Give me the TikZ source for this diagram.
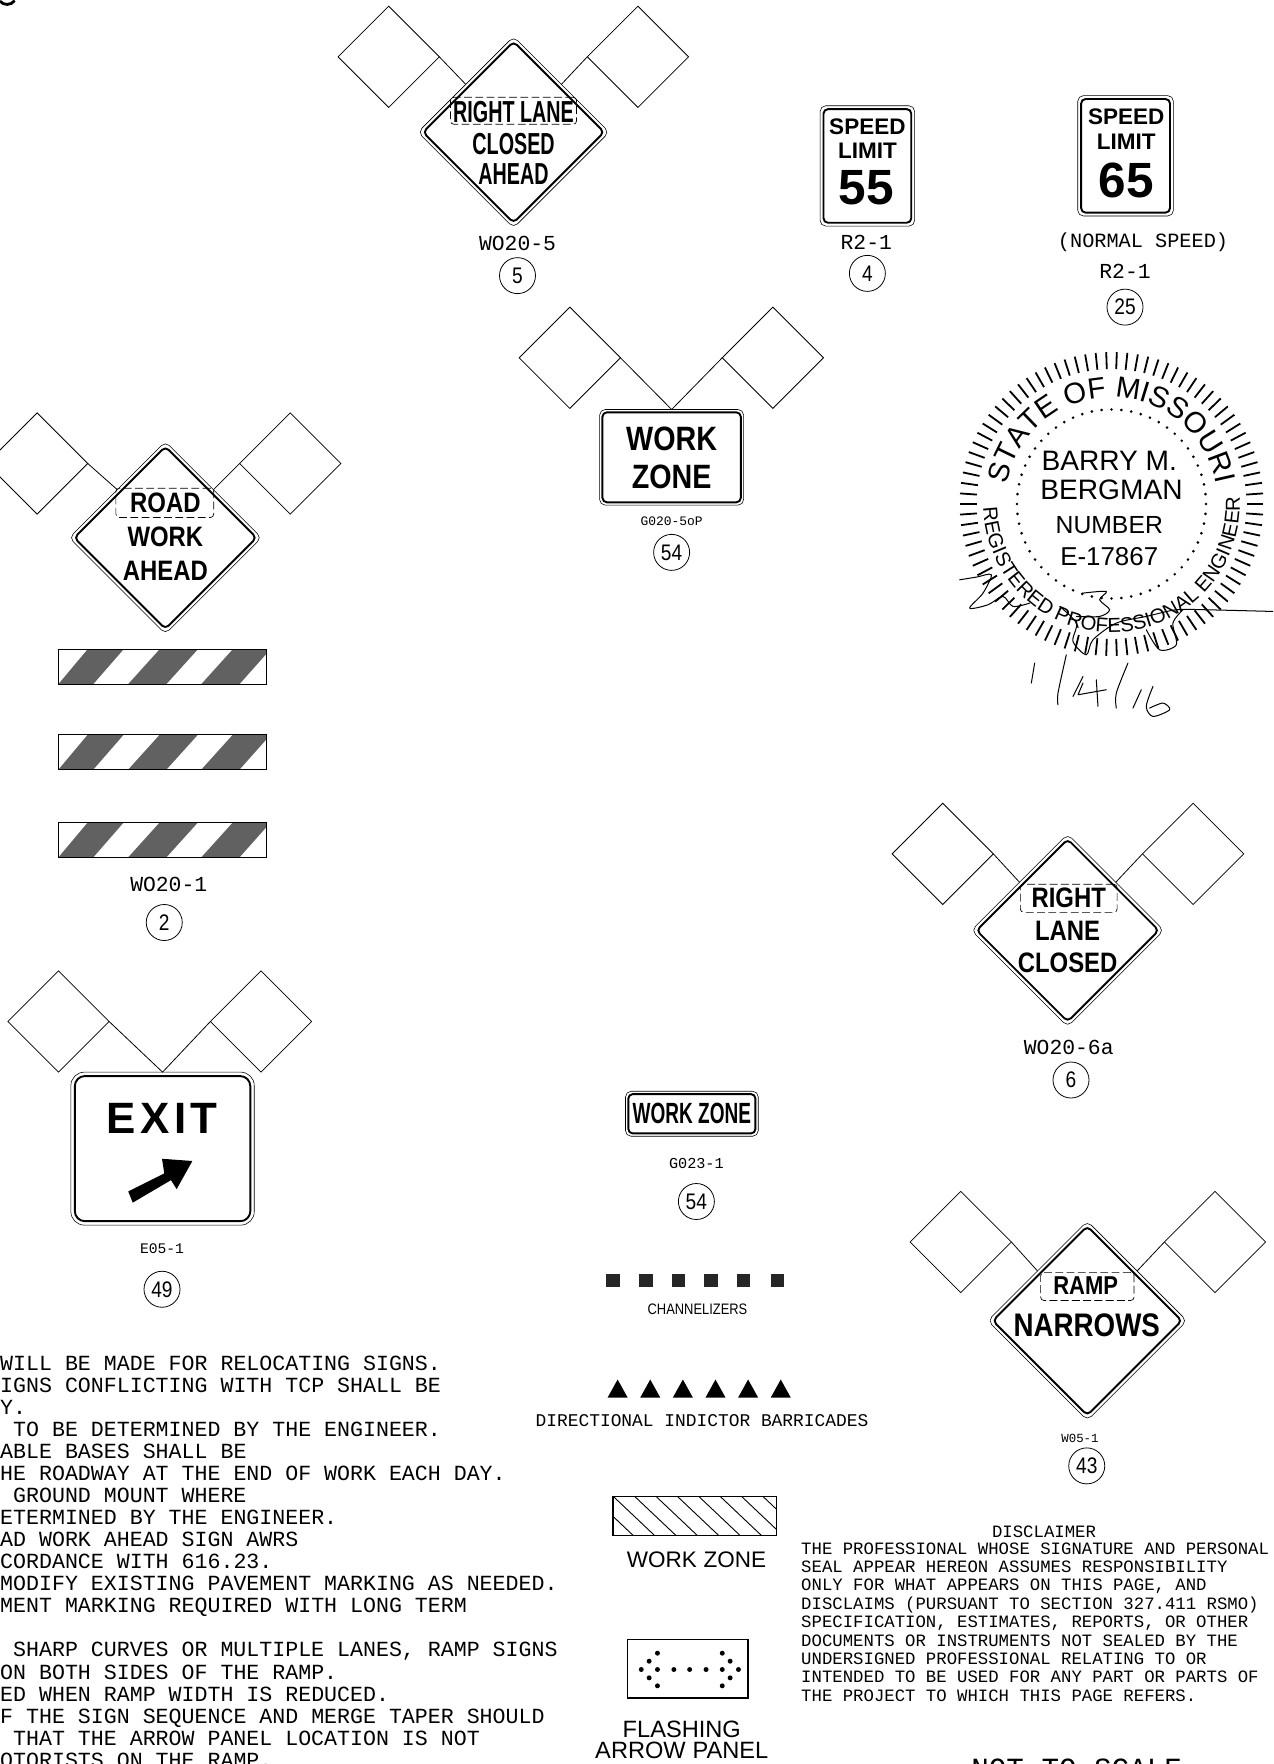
\documentclass[tikz,border=0pt]{standalone}
\usepackage{fontspec}
\setmainfont{Liberation Sans}
\setmonofont{Liberation Mono}
\newfontfamily\signfont[FakeStretch=0.65]{Liberation Sans}
\newfontfamily\signwide[FakeStretch=0.85]{Liberation Sans}
\usetikzlibrary{shapes.geometric,decorations.text}
\newcommand{\fsz}[1]{\fontsize{#1}{#1}\selectfont}
\tikzset{
  flagd/.style={draw, diamond, line width=0.7pt, inner sep=0pt, outer sep=0pt, minimum width=90pt, minimum height=90pt},
  signo/.style={draw, diamond, fill=white, rounded corners=5pt, line width=0.5pt, inner sep=0pt, outer sep=0pt, minimum width=#1, minimum height=#1},
  signi/.style={draw, diamond, rounded corners=4pt, line width=1.7pt, inner sep=0pt, outer sep=0pt, minimum width=#1, minimum height=#1},
  boxo/.style={draw, rectangle, fill=white, rounded corners=5pt, line width=0.5pt, inner sep=0pt, outer sep=0pt},
  boxi/.style={draw, rectangle, rounded corners=4pt, line width=1.7pt, inner sep=0pt, outer sep=0pt},
  dashbox/.style={draw, rectangle, dash pattern=on 7pt off 3pt, rounded corners=3pt, line width=0.6pt, inner sep=0pt, outer sep=0pt},
  legend/.style={font=\signfont\bfseries\fsz{27}, inner sep=0pt},
  legwide/.style={font=\signwide\bfseries\fsz{25}, inner sep=0pt},
  lbl/.style={font=\ttfamily\fsz{19}, inner sep=0pt},
  numc/.style={draw, circle, line width=0.7pt, minimum size=32pt, inner sep=0pt, font=\signwide\fsz{20}},
  speed/.style={font=\bfseries\fsz{20}, inner sep=0pt},
  limit/.style={font=\bfseries\fsz{44}, inner sep=0pt},
  sealtxt/.style={inner sep=0pt},
  hand/.style={line width=0.9pt, line cap=round, line join=round}
}
\begin{document}
\begin{tikzpicture}[x=1pt, y=-1pt]
\useasboundingbox (0,0) rectangle (1132,1568);
\draw[line width=2.5pt] (0,1) .. controls (3,5) and (10,5) .. (13,0.5);

\node[flagd] (RLCa) at (345.5,50.5) {};
\node[flagd] (RLCb) at (567,50.5) {};
\node[signo=170pt] (RLC) at (456.5,117.5) {};
\node[signi=161pt] (RLCi) at (RLC) {};
\draw[line width=0.7pt] (RLCa.east) -- (RLC.north west);
\draw[line width=0.7pt] (RLCb.west) -- (RLC.north east);
\node[dashbox, minimum width=112pt, minimum height=24pt] (RLCd) at (456.5,98.5) {};
\node[legend] (RLCt) at (456.5,100) {RIGHT LANE};
\node[legend] (RLCu) at (456.5,128) {CLOSED};
\node[legend] (RLCv) at (456.5,155) {AHEAD};
\node[lbl] (RLCl) at (460,216) {WO20-5};
\node[numc] (RLCn) at (460,245) {5};

\node[boxo, minimum width=84pt, minimum height=107pt] (SL55) at (771,147.5) {};
\node[boxi, minimum width=78pt, minimum height=101pt] (SL55i) at (SL55) {};
\node[speed] (SL55a) at (771,113) {SPEED};
\node[speed] (SL55b) at (771,134) {LIMIT};
\node[limit] (SL55c) at (770,167) {55};
\node[lbl] (SL55l) at (770,215) {R2-1};
\node[numc] (SL55n) at (771,243) {4};

\node[boxo, minimum width=85pt, minimum height=107pt] (SL65) at (1000.5,138.5) {};
\node[boxi, minimum width=79pt, minimum height=101pt] (SL65i) at (SL65) {};
\node[speed] (SL65a) at (1001,104) {SPEED};
\node[speed] (SL65b) at (1001,126) {LIMIT};
\node[limit] (SL65c) at (1001,160) {65};
\node[lbl, font=\ttfamily\fsz{18}] (SL65m) at (1016,215) {(NORMAL SPEED)};
\node[lbl] (SL65l) at (1000,241) {R2-1};
\node[numc] (SL65n) at (1000,273) {25};

\node[flagd] (WZa) at (506.5,318) {};
\node[flagd] (WZb) at (687,318) {};
\node[boxo, minimum width=128pt, minimum height=85pt] (WZ) at (597,406.5) {};
\node[boxi, minimum width=123pt, minimum height=80pt] (WZi) at (WZ) {};
\draw[line width=0.7pt] (WZa.east) -- (WZ.north) -- (WZb.west);
\node[legwide, font=\signwide\bfseries\fsz{30}] (WZt) at (597,390) {WORK};
\node[legwide, font=\signwide\bfseries\fsz{30}] (WZu) at (597,424) {ZONE};
\node[lbl, font=\ttfamily\fsz{11.5}] (WZl) at (597,463) {G020-5oP};
\node[numc] (WZn) at (597,491) {54};

\node[flagd] (RWAa) at (33,412) {};
\node[flagd] (RWAb) at (258,412) {};
\node[signo=171pt] (RWA) at (147,478) {};
\node[signi=162pt] (RWAi) at (RWA) {};
\draw[line width=0.7pt] (RWAa.east) -- (RWA.north west);
\draw[line width=0.7pt] (RWAb.west) -- (RWA.north east);
\node[dashbox, minimum width=87pt, minimum height=26pt] (RWAd) at (146.5,447) {};
\node[legwide] (RWAt) at (147,447) {ROAD};
\node[legwide] (RWAu) at (147,477) {WORK};
\node[legwide] (RWAv) at (147,507) {AHEAD};

\foreach \y/\n in {577/a,653/b,731/c}{
  \fill[black!62] (52,{\y+31}) -- (83,{\y+31}) -- (110,\y) -- (78,\y) -- cycle;
  \fill[black!62] (114,{\y+31}) -- (148,{\y+31}) -- (176,\y) -- (142,\y) -- cycle;
  \fill[black!62] (179,{\y+31}) -- (213,{\y+31}) -- (237,{\y+4}) -- (237,\y) -- (207,\y) -- cycle;
  \node[draw, line width=0.9pt, inner sep=0pt, outer sep=0pt, minimum width=185pt, minimum height=31pt] (Bar\n) at (144.5,{\y+15.5}) {};
}
\node[lbl] (Barl) at (150,786) {WO20-1};
\node[numc] (Barn) at (146,820) {2};

\node[flagd] (EXa) at (52,908) {};
\node[flagd] (EXb) at (232,908) {};
\node[boxo, rounded corners=12pt, minimum width=163pt, minimum height=136pt] (EX) at (144.5,1021) {};
\node[boxi, rounded corners=9pt, minimum width=156pt, minimum height=129pt] (EXi) at (EX) {};
\draw[line width=0.7pt] (EXa.east) -- (EX.north) -- (EXb.west);
\node[font=\bfseries\fsz{39}, inner sep=0pt] (EXt) at (144,994) {E\hspace{4pt}X\hspace{4pt}I\hspace{4pt}T};
\fill (114,1059) -- (146,1043) -- (144,1030) -- (171,1032) -- (157,1057) -- (152,1049) -- (118,1069) -- cycle;
\node[lbl, font=\ttfamily\fsz{13}] (EXl) at (144,1110) {E05-1};
\node[numc] (EXn) at (144,1146) {49};

\node[flagd] (RLa) at (838,759) {};
\node[flagd] (RLb) at (1060.5,759) {};
\node[signo=171pt] (RL) at (949,827) {};
\node[signi=162pt] (RLi) at (RL) {};
\draw[line width=0.7pt] (RLa.east) -- (RL.north west);
\draw[line width=0.7pt] (RLb.west) -- (RL.north east);
\node[dashbox, minimum width=86pt, minimum height=25pt] (RLd) at (950,798.5) {};
\node[legwide] (RLt) at (950,798) {RIGHT};
\node[legwide] (RLu) at (949,827) {LANE};
\node[legwide] (RLv) at (949,856) {CLOSED};
\node[lbl] (RLl) at (950,931) {WO20-6a};
\node[numc] (RLn) at (952,960) {6};

\node[flagd] (RNa) at (854,1104) {};
\node[flagd] (RNb) at (1080,1104) {};
\node[signo=177pt] (RN) at (966.5,1174) {};
\node[signi=168pt] (RNi) at (RN) {};
\draw[line width=0.7pt] (RNa.east) -- (RN.north west);
\draw[line width=0.7pt] (RNb.west) -- (RN.north east);
\node[dashbox, minimum width=83pt, minimum height=25pt] (RNd) at (966.5,1143.5) {};
\node[legwide, font=\signwide\bfseries\fsz{23}] (RNt) at (965,1143) {RAMP};
\node[legwide, font=\signwide\bfseries\fsz{29}] (RNu) at (966,1178) {NARROWS};
\node[lbl, font=\ttfamily\fsz{11}] (RNl) at (960,1279) {W05-1};
\node[numc] (RNn) at (966,1303) {43};

\node[boxo, minimum width=118pt, minimum height=40pt] (GWZ) at (615,990) {};
\node[boxi, minimum width=113pt, minimum height=35pt] (GWZi) at (GWZ) {};
\node[legend, font=\signfont\bfseries\fsz{26}] (GWZt) at (615,990) {WORK ZONE};
\node[lbl, font=\ttfamily\fsz{13.5}] (GWZl) at (619,1034) {G023-1};
\node[numc] (GWZn) at (619,1068) {54};

\foreach \x in {545,574,603,632,661,691}
  \node[fill=black!85, inner sep=0pt, minimum size=12pt] (Ch\x) at (\x,1138) {};
\node[font=\signwide\fsz{13.5}, inner sep=0pt] (Chl) at (620,1164) {CHANNELIZERS};

\foreach \x in {549,578,607,636,665,694}
  \node[isosceles triangle, isosceles triangle apex angle=58, shape border rotate=90, fill=black, inner sep=0pt, minimum height=16pt, minimum width=17pt] (Tr\x) at (\x,1237) {};
\node[lbl, font=\ttfamily\fsz{15.9}] (Trl) at (624,1263) {DIRECTIONAL INDICTOR BARRICADES};

\begin{scope}
  \clip (545,1330) rectangle (690,1365);
  \foreach \x in {507,526,545,564,583,602,621,640,659,678}
    \draw[line width=0.8pt] (\x,1330) -- (\x+37,1365);
\end{scope}
\node[draw, line width=1.3pt, inner sep=0pt, outer sep=0pt, minimum width=145pt, minimum height=35pt] (HZ) at (617.5,1347.5) {};
\node[font=\fsz{20}, inner sep=0pt] (HZl) at (619,1386) {WORK\hspace{6pt}ZONE};

\node[draw, line width=1.3pt, inner sep=0pt, outer sep=0pt, minimum width=107pt, minimum height=52pt] (AP) at (611.5,1483.5) {};
\foreach \x/\y in {570/0,577/-7.4,577/7.4,584.4/0,584.4/-14.5,584.4/14.5,599/0,613/0,627.6/0,642/0,642/-14.5,642/14.5,649/-7.4,649/7.4,656.4/0}
  \fill (\x,{1484+\y}) circle (2.2);
\node[font=\fsz{21}, inner sep=0pt] (APa) at (606,1537) {FLASHING};
\node[font=\fsz{21}, inner sep=0pt] (APb) at (606,1556) {ARROW\hspace{6pt}PANEL};

\node[font=\ttfamily\fsz{15.4}, inner sep=0pt] (Dis) at (928,1362) {DISCLAIMER};
\node[anchor=north west, align=left, font=\ttfamily\fontsize{15.4}{16.35}\selectfont, inner sep=0pt] (Dist) at (712,1371) {THE PROFESSIONAL WHOSE SIGNATURE AND PERSONAL\\
SEAL APPEAR HEREON ASSUMES RESPONSIBILITY\\
ONLY FOR WHAT APPEARS ON THIS PAGE, AND\\
DISCLAIMS (PURSUANT TO SECTION 327.411 RSMO)\\
SPECIFICATION, ESTIMATES, REPORTS, OR OTHER\\
DOCUMENTS OR INSTRUMENTS NOT SEALED BY THE\\
UNDERSIGNED PROFESSIONAL RELATING TO OR\\
INTENDED TO BE USED FOR ANY PART OR PARTS OF\\
THE PROJECT TO WHICH THIS PAGE REFERS.};

\node[anchor=north west, align=left, font=\ttfamily\fontsize{19.2}{19.6}\selectfont, inner sep=0pt] (Notes) at (0,1205) {WILL BE MADE FOR RELOCATING SIGNS.\\
IGNS CONFLICTING WITH TCP SHALL BE\\
Y.\\
\hspace*{11.5pt}TO BE DETERMINED BY THE ENGINEER.\\
ABLE BASES SHALL BE\\
HE ROADWAY AT THE END OF WORK EACH DAY.\\
\hspace*{11.5pt}GROUND MOUNT WHERE\\
ETERMINED BY THE ENGINEER.\\
AD WORK AHEAD SIGN AWRS\\
CORDANCE WITH 616.23.\\
MODIFY EXISTING PAVEMENT MARKING AS NEEDED.\\
MENT MARKING REQUIRED WITH LONG TERM\\
\mbox{}\\
\hspace*{11.5pt}SHARP CURVES OR MULTIPLE LANES, RAMP SIGNS\\
ON BOTH SIDES OF THE RAMP.\\
ED WHEN RAMP WIDTH IS REDUCED.\\
F THE SIGN SEQUENCE AND MERGE TAPER SHOULD\\
\hspace*{11.5pt}THAT THE ARROW PANEL LOCATION IS NOT\\
OTORISTS ON THE RAMP.};

\node[anchor=base, font=\ttfamily\fsz{26}, inner sep=0pt] (NTS) at (957,1581) {NOT TO SCALE};

\begin{scope}[shift={(988,448)}]
  \foreach \a in {0,4,...,356}
    \draw[line width=1.6pt] (\a:120) -- (\a:135);
  \foreach \a in {0,6,...,354}
    \fill (\a:84) circle (1.3);
  \path[decorate, decoration={text along path, text align=center, text={|\fsz{26}|STATE OF MISSOURI}}] (192:95) arc[start angle=192, end angle=348, radius=95];
  \path[decorate, decoration={text along path, text align=center, text={|\fsz{18}|REGISTERED PROFESSIONAL ENGINEER}}] (-171:114) arc[start angle=-171, end angle=-374, radius=114];
\end{scope}
\node[sealtxt, font=\fsz{25}] (SealA) at (986,410) {BARRY M.};
\node[sealtxt, font=\fsz{25}] (SealB) at (988,435.5) {BERGMAN};
\node[sealtxt, font=\fsz{22}] (SealC) at (986,466.5) {NUMBER};
\node[sealtxt, font=\fsz{23}] (SealD) at (986,494.5) {E-17867};

\begin{scope}[shift={(817.5,302.1)}, x=0.2962pt, y=-0.2962pt]
  \draw[hand] plot[smooth] coordinates {(120,720) (170,712) (215,705) (190,760) (150,805) (205,795) (250,770) (280,800) (330,790)};
  \draw[hand] plot[smooth] coordinates {(420,800) (470,850) (460,905) (500,945) (520,900) (590,850) (680,830) (770,810) (860,810) (1060,815)};
  \draw[hand] plot[smooth] coordinates {(680,870) (720,930) (770,915) (760,850) (790,810)};
  \draw[hand] plot[smooth] coordinates {(490,760) (560,755) (540,780) (570,810) (540,830) (470,830)};
  \draw[hand] (345,970) -- (335,1030);
  \draw[hand] plot[smooth] coordinates {(440,945) (415,1060) (415,1095)};
  \draw[hand] (490,1010) -- (460,1070);
  \draw[hand] (490,1030) -- (475,1065) -- (560,1050);
  \draw[hand] (530,1020) -- (535,1100);
  \draw[hand] plot[smooth] coordinates {(625,970) (590,1060) (590,1105)};
  \draw[hand] (665,1050) -- (640,1105);
  \draw[hand] plot[smooth] coordinates {(700,1040) (680,1100) (700,1130) (750,1110) (730,1090) (690,1105)};
\end{scope}
\end{tikzpicture}
\end{document}
